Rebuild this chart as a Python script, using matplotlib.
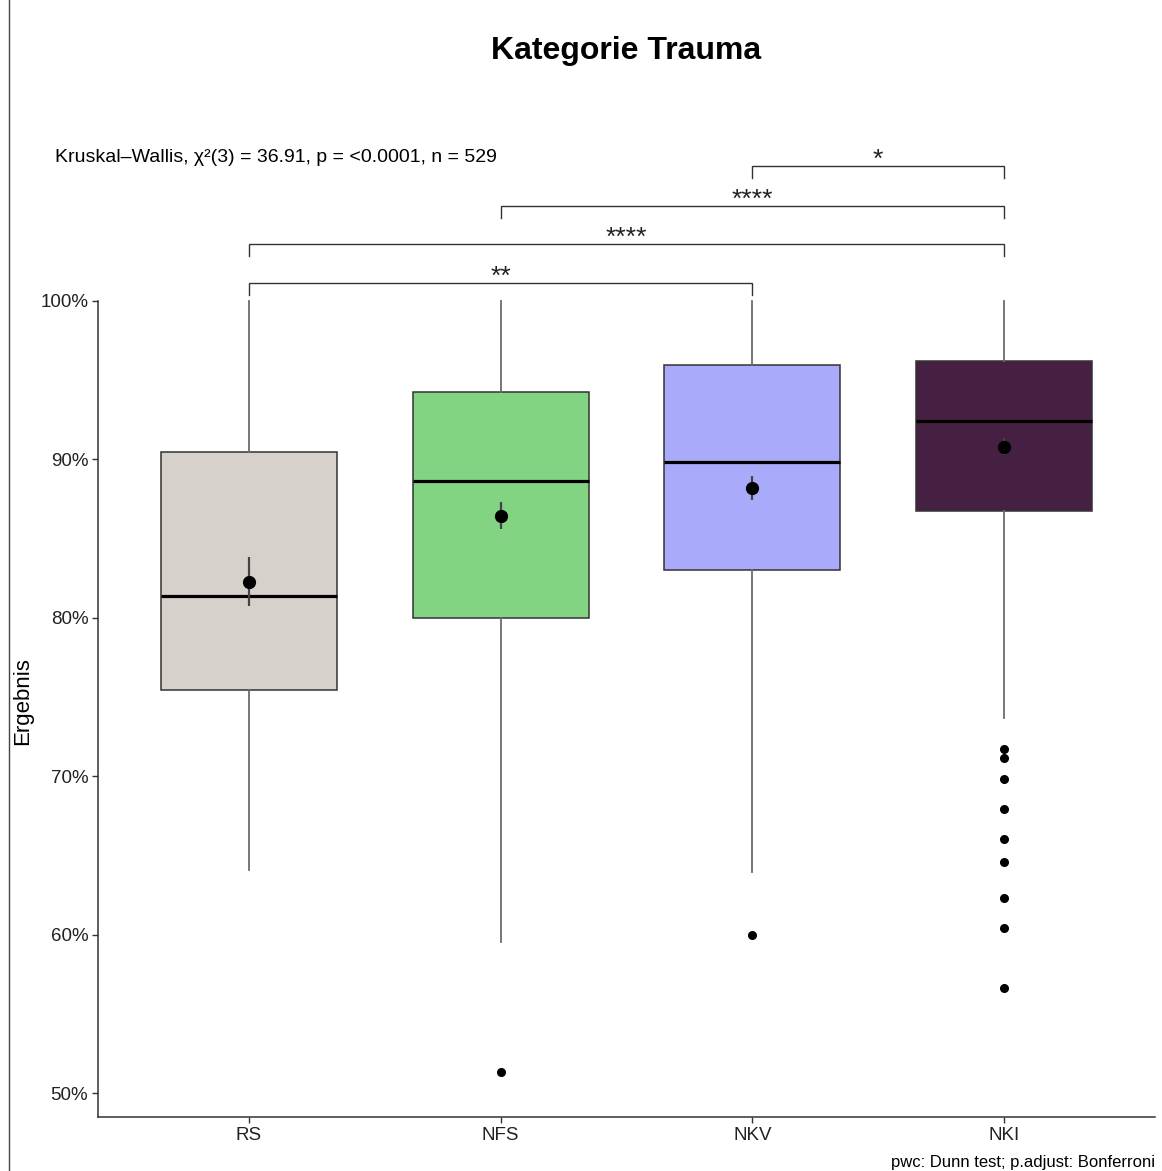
import numpy as np
import matplotlib
matplotlib.use("Agg")
import matplotlib.pyplot as plt
from matplotlib.lines import Line2D
from matplotlib.ticker import FuncFormatter

plt.rcParams['font.family'] = ['Liberation Sans', 'DejaVu Sans']

# group summaries (percent)
groups = ['RS', 'NFS', 'NKV', 'NKI']
q1 = [75.44, 79.96, 83.02, 86.74]
med = [81.38, 88.66, 89.81, 92.42]
q3 = [90.47, 94.25, 95.96, 96.19]
wlo = [64.10, 59.55, 63.97, 73.67]
whi = [100.0, 100.0, 100.0, 100.0]
outliers = [[], [51.3], [60.0],
            [71.72, 71.15, 69.82, 67.93, 66.04, 64.58, 62.31, 60.42, 56.63]]
means = [82.26, 86.45, 88.22, 90.80]
ci_lo = [80.72, 85.60, 87.44, 90.28]
ci_hi = [83.82, 87.33, 88.95, 91.33]
fills = ['#D6D1CB', '#82D382', '#A9AAFA', '#452043']

# pairwise comparisons: (group a, group b, bracket height, label)
pairs = [('RS', 'NKV', 101.14, '**'),
         ('RS', 'NKI', 103.6, '****'),
         ('NFS', 'NKI', 106.0, '****'),
         ('NKV', 'NKI', 108.52, '*')]

kw_label = 'Kruskal\u2013Wallis, \u03c7\u00b2(3) = 36.91, p = <0.0001, n = 529'

fig = plt.figure(figsize=(11.62, 11.71), dpi=100)
ax = fig.add_axes([98/1162, 54/1171, (1155-98)/1162, (1117-130)/1171])

pos = np.arange(1, len(groups) + 1)
stats = []
for i, g in enumerate(groups):
    stats.append(dict(label=g, q1=q1[i], med=med[i], q3=q3[i],
                      whislo=wlo[i], whishi=whi[i], fliers=outliers[i]))

bp = ax.bxp(stats, positions=pos, widths=0.7, patch_artist=True,
            showcaps=False,
            boxprops=dict(edgecolor='#333333', linewidth=1.1),
            whiskerprops=dict(color='#6b6b6b', linewidth=1.3),
            medianprops=dict(color='black', linewidth=2.3),
            flierprops=dict(marker='o', markersize=5.5, markerfacecolor='black',
                            markeredgecolor='black'))
for patch, c in zip(bp['boxes'], fills):
    patch.set_facecolor(c)

# mean with confidence interval
ax.errorbar(pos, means,
            yerr=[np.array(means) - np.array(ci_lo), np.array(ci_hi) - np.array(means)],
            fmt='o', color='black', ecolor='#444444', elinewidth=1.6,
            markersize=8.5, capsize=0, zorder=5)

# significance brackets
tip = 0.75
for a, b, h, lab in pairs:
    xa = groups.index(a) + 1
    xb = groups.index(b) + 1
    ax.plot([xa, xa, xb, xb], [h - tip, h, h, h - tip], color='#333333',
            lw=1.0, solid_joinstyle='miter')
    ax.text((xa + xb) / 2, h - 0.05, lab, ha='center', va='baseline',
            fontsize=19, color='#222222')

fig.text(55/1162, 1 - 157/1171, kw_label, fontsize=14, ha='left', va='center')

ax.set_xlim(0.4, 4.6)
ax.set_ylim(48.485, 110.795)
ax.set_yticks([50, 60, 70, 80, 90, 100])
ax.yaxis.set_major_formatter(FuncFormatter(lambda v, p: '%d%%' % v))
ax.set_xticks(pos)
ax.set_xticklabels(groups)
ax.tick_params(axis='both', labelsize=13.5, length=4, width=1, color='#333333',
               labelcolor='#222222', pad=3)

# y spine stops at the top of the data range
ax.spines['top'].set_visible(False)
ax.spines['right'].set_visible(False)
ax.spines['left'].set_bounds(48.485, 100.0)
for sp in ('left', 'bottom'):
    ax.spines[sp].set_linewidth(1.1)
    ax.spines[sp].set_color('#333333')

ax.set_ylabel('Ergebnis', fontsize=16)
ax.yaxis.set_label_coords(-0.0615, 0.421)

fig.text(626/1162, 1 - 51/1171, 'Kategorie Trauma', ha='center', va='center',
         fontsize=23, fontweight='bold')
fig.text(1155/1162, 1 - 1162/1171, 'pwc: Dunn test; p.adjust: Bonferroni',
         ha='right', va='center', fontsize=12)

fig.add_artist(Line2D([8.5/1162, 8.5/1162], [0, 1], color='#444444', lw=1.0))

fig.savefig('out.png', dpi=100)
